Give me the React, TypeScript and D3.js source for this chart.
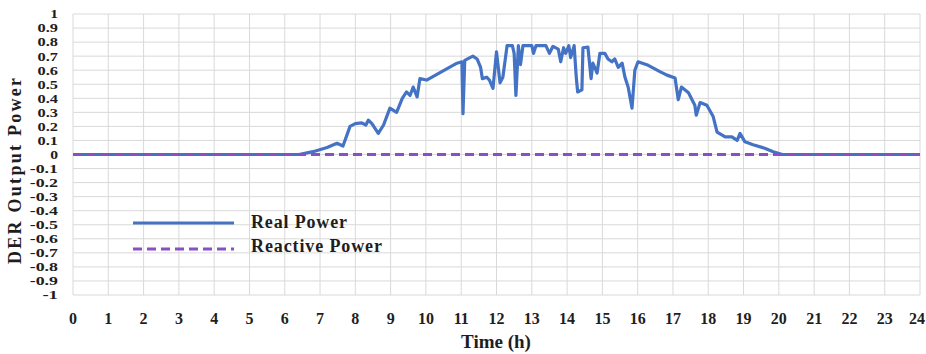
import React from "react";
import * as d3 from "d3";

// Hourly grid (0–24 h) and per-unit power axis (-1 … 1)
const hourTicks = d3.range(0, 25);
const powerTicks = d3.range(-10, 11).map((i) => i / 10);

// Real power output of the DER over the day: [hour, p.u.]
const realPower: [number, number][] = [
  [0, 0], [6.4, 0], [6.8, 0.02], [7.2, 0.05], [7.48, 0.08], [7.65, 0.06],
  [7.85, 0.2], [8.0, 0.22], [8.18, 0.225], [8.3, 0.21], [8.37, 0.245],
  [8.47, 0.22], [8.65, 0.15], [8.8, 0.21], [8.98, 0.33], [9.17, 0.3],
  [9.33, 0.4], [9.45, 0.445], [9.55, 0.42], [9.64, 0.48], [9.75, 0.41],
  [9.83, 0.54], [10.02, 0.53], [10.88, 0.65], [11.02, 0.66], [11.05, 0.29],
  [11.1, 0.67], [11.33, 0.7], [11.45, 0.68], [11.55, 0.62], [11.6, 0.54],
  [11.72, 0.55], [11.8, 0.53], [11.9, 0.47], [11.95, 0.6], [12.0, 0.73],
  [12.1, 0.51], [12.18, 0.55], [12.3, 0.775], [12.45, 0.775], [12.5, 0.72],
  [12.55, 0.42], [12.62, 0.775], [12.68, 0.64], [12.75, 0.775], [13.0, 0.775],
  [13.05, 0.72], [13.12, 0.775], [13.4, 0.775], [13.5, 0.72], [13.6, 0.77],
  [13.75, 0.75], [13.82, 0.66], [13.9, 0.76], [13.96, 0.72], [14.05, 0.775],
  [14.1, 0.69], [14.2, 0.775], [14.26, 0.55], [14.3, 0.445], [14.42, 0.46],
  [14.45, 0.76], [14.59, 0.765], [14.68, 0.54], [14.73, 0.65], [14.85, 0.58],
  [14.93, 0.72], [15.07, 0.72], [15.16, 0.68], [15.27, 0.66], [15.35, 0.68],
  [15.45, 0.62], [15.56, 0.65], [15.64, 0.55], [15.73, 0.48], [15.84, 0.33],
  [15.92, 0.6], [16.01, 0.66], [16.3, 0.635], [16.63, 0.59], [16.83, 0.565],
  [17.06, 0.545], [17.15, 0.39], [17.24, 0.48], [17.44, 0.44], [17.62, 0.35],
  [17.66, 0.28], [17.77, 0.37], [17.96, 0.35], [18.14, 0.27], [18.25, 0.16],
  [18.48, 0.125], [18.67, 0.125], [18.82, 0.1], [18.9, 0.15], [19.04, 0.09],
  [19.27, 0.07], [19.6, 0.045], [19.84, 0.02], [20.1, 0], [24, 0],
];

// Reactive power stays at zero all day
const reactivePower: [number, number][] = [
  [0, 0],
  [24, 0],
];

const legendItems = [
  { label: "Real Power", color: "#4472c4", dash: "" },
  { label: "Reactive Power", color: "#8a4fc4", dash: "9,5" },
];

const W = 926;
const H = 354;
const plot = { left: 73, right: 920, top: 14, bottom: 295 };
const font = "'Liberation Serif', 'Times New Roman', serif";
const ink = "#1e1e1e";

const yLabel = (t: number) => (t === 0 ? "0" : String(Math.round(t * 10) / 10));

export default function App() {
  const x = d3.scaleLinear().domain([0, 24]).range([plot.left, plot.right]);
  const y = d3.scaleLinear().domain([-1, 1]).range([plot.bottom, plot.top]);
  const line = d3
    .line<[number, number]>()
    .x((d) => x(d[0]))
    .y((d) => y(d[1]));

  return (
    <div style={{ position: "absolute", left: 0, top: 0 }}>
      <svg width={W} height={H} style={{ display: "block", background: "#fff" }}>
        {/* grid */}
        <g stroke="#d9d9d9" strokeWidth={1}>
          {powerTicks.map((t) => (
            <line key={"h" + t} x1={plot.left} x2={plot.right} y1={y(t)} y2={y(t)} />
          ))}
          {hourTicks.map((t) => (
            <line key={"v" + t} x1={x(t)} x2={x(t)} y1={plot.top} y2={plot.bottom} />
          ))}
        </g>

        {/* y tick labels: tightly packed, glyphs widened a little */}
        <g fontFamily={font} fontWeight="bold" fontSize={12.5} fill={ink} textAnchor="end">
          {powerTicks.map((t) => {
            const s = yLabel(t);
            const w = s.length * 0.5 * 12.5 * 1.25 - (s.includes(".") ? 3 : 0);
            return (
              <text
                key={"yl" + t}
                x={plot.left - 15}
                y={y(t)}
                dy="0.35em"
                textLength={w}
                lengthAdjust="spacingAndGlyphs"
              >
                {s}
              </text>
            );
          })}
        </g>

        {/* x tick labels */}
        <g fontFamily={font} fontWeight="bold" fontSize={16} fill={ink}>
          {hourTicks.map((t) => (
            <text
              key={"xl" + t}
              x={t === 24 ? W - 1 : x(t)}
              y={324}
              textAnchor={t === 24 ? "end" : "middle"}
            >
              {t}
            </text>
          ))}
        </g>

        {/* axis titles */}
        <text
          x={496}
          y={348}
          textAnchor="middle"
          fontFamily={font}
          fontWeight="bold"
          fontSize={19}
          fill={ink}
        >
          Time (h)
        </text>
        <text
          transform={`translate(21,171) rotate(-90)`}
          textAnchor="middle"
          fontFamily={font}
          fontWeight="bold"
          fontSize={18}
          textLength={186}
          lengthAdjust="spacing"
          fill={ink}
        >
          DER Output Power
        </text>

        {/* series */}
        <path
          d={line(realPower) ?? ""}
          fill="none"
          stroke="#4472c4"
          strokeWidth={3.2}
          strokeLinejoin="round"
        />
        <path
          d={line(reactivePower) ?? ""}
          fill="none"
          stroke="#8a4fc4"
          strokeWidth={3}
          strokeDasharray="9,5"
        />

        {/* legend */}
        {legendItems.map((item, i) => (
          <g key={item.label} transform={`translate(0,${223 + i * 26})`}>
            <line
              x1={133}
              x2={234}
              y1={0}
              y2={0}
              stroke={item.color}
              strokeWidth={3}
              strokeDasharray={item.dash}
            />
            <text
              x={251}
              y={i === 0 ? -1 : -3}
              dy="0.35em"
              fontFamily={font}
              fontWeight="bold"
              fontSize={18}
              textLength={i === 0 ? 96 : 131}
              lengthAdjust="spacing"
              fill={ink}
            >
              {item.label}
            </text>
          </g>
        ))}
      </svg>
    </div>
  );
}
